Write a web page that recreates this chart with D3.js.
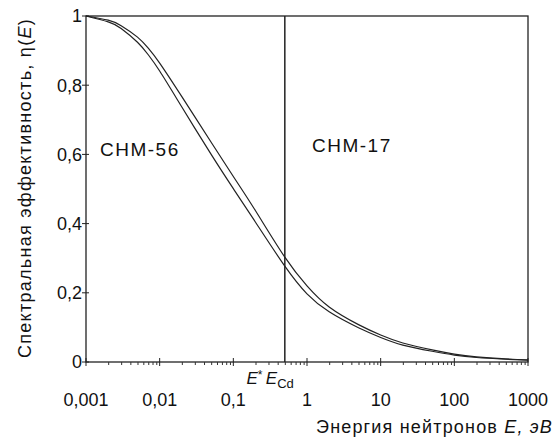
<!DOCTYPE html>
<html>
<head>
<meta charset="utf-8">
<script src="https://cdn.jsdelivr.net/npm/d3@7"></script>
<style>
    body { margin: 0; background: #fff; }
    svg text { font-family: "Liberation Sans", Arial, sans-serif; fill: #111; }
</style>
</head>
<body>
<div id="chart"></div>
<script>
// energies, eV
const energies = [0.001, 0.002, 0.003, 0.005, 0.007, 0.01, 0.02, 0.05, 0.1, 0.2, 0.5, 1, 2, 5, 10, 20, 50, 100, 200, 500, 1000];
// upper (right) curve
const upperValues = [1.0, 0.988, 0.972, 0.939, 0.907, 0.864, 0.767, 0.635, 0.536, 0.437, 0.303, 0.220, 0.159, 0.108, 0.078, 0.055, 0.035, 0.023, 0.015, 0.009, 0.006];
// lower (left) curve
const lowerValues = [1.0, 0.983, 0.964, 0.924, 0.888, 0.841, 0.737, 0.600, 0.501, 0.404, 0.277, 0.197, 0.145, 0.099, 0.071, 0.049, 0.031, 0.020, 0.013, 0.008, 0.005];

const xTickValues = [0.001, 0.01, 0.1, 1, 10, 100, 1000];
const xTickLabels = ['0,001', '0,01', '0,1', '1', '10', '100', '1000'];
const yTickValues = [0, 0.2, 0.4, 0.6, 0.8, 1];
const yTickLabels = ['0', '0,2', '0,4', '0,6', '0,8', '1'];

const cadmiumEnergy = 0.5;
const starEnergy = 0.2;

const width = 554;
const height = 438;
const plot = { left: 86, right: 528, top: 16, bottom: 362 };

let svg = d3.select('#chart').append('svg')
    .attr('width', width)
    .attr('height', height);

let x = d3.scaleLog().domain([0.001, 1000]).range([plot.left, plot.right]);
let y = d3.scaleLinear().domain([0, 1]).range([plot.bottom, plot.top]);

// stretch a label out to the length it has in the scan
function spreadTo(text, target) {
    let node = text.node();
    let len = node.getComputedTextLength();
    let count = node.textContent.length;
    text.style('letter-spacing', ((target - len) / count) + 'px');
}

// frame
svg.append('rect')
    .attr('x', plot.left)
    .attr('y', plot.top)
    .attr('width', plot.right - plot.left)
    .attr('height', plot.bottom - plot.top)
    .attr('fill', 'none')
    .attr('stroke', '#222')
    .attr('stroke-width', 1.3);

// x axis: major ticks cross the line, minor ticks below
let minorTicks = x.ticks().filter(d => !xTickValues.includes(d));
svg.append('g')
    .attr('transform', `translate(0,${plot.bottom})`)
    .call(d3.axisBottom(x).tickValues(minorTicks).tickSize(3).tickFormat(''))
    .call(g => g.select('.domain').remove())
    .call(g => g.selectAll('line').attr('stroke', '#333'));

svg.append('g')
    .selectAll('line')
    .data(xTickValues)
    .join('line')
    .attr('x1', d => x(d))
    .attr('x2', d => x(d))
    .attr('y1', plot.bottom - 4)
    .attr('y2', plot.bottom + 4)
    .attr('stroke', '#222');

svg.append('g')
    .selectAll('text')
    .data(xTickValues)
    .join('text')
    .attr('x', d => x(d))
    .attr('y', 406)
    .attr('text-anchor', 'middle')
    .style('font-size', '18px')
    .text((d, i) => xTickLabels[i]);

// y axis ticks
svg.append('g')
    .selectAll('line')
    .data(yTickValues)
    .join('line')
    .attr('x1', plot.left - 4)
    .attr('x2', plot.left + 3)
    .attr('y1', d => y(d))
    .attr('y2', d => y(d))
    .attr('stroke', '#222');

svg.append('g')
    .selectAll('text')
    .data(yTickValues)
    .join('text')
    .attr('x', plot.left - 4)
    .attr('y', d => y(d))
    .attr('dy', '0.36em')
    .attr('text-anchor', 'end')
    .style('font-size', '18px')
    .text((d, i) => yTickLabels[i]);

// curves
let line = d3.line()
    .x(d => x(d.e))
    .y(d => y(d.v))
    .curve(d3.curveNatural);

[upperValues, lowerValues].forEach(values => {
    svg.append('path')
        .datum(energies.map((e, i) => ({ e: e, v: values[i] })))
        .attr('d', line)
        .attr('fill', 'none')
        .attr('stroke', '#222')
        .attr('stroke-width', 1.2);
});

// cadmium edge
svg.append('line')
    .attr('x1', x(cadmiumEnergy))
    .attr('x2', x(cadmiumEnergy))
    .attr('y1', plot.top)
    .attr('y2', plot.bottom)
    .attr('stroke', '#222')
    .attr('stroke-width', 1.5);

// labels under the axis
let star = svg.append('text')
    .attr('x', x(starEnergy) - 1)
    .attr('y', 384)
    .attr('text-anchor', 'middle')
    .style('font-size', '17px');
star.append('tspan').style('font-style', 'italic').text('E');
star.append('tspan').attr('dy', -5).style('font-size', '12px').text('*');

let ecd = svg.append('text')
    .attr('x', x(cadmiumEnergy) - 19)
    .attr('y', 384)
    .style('font-size', '17px');
ecd.append('tspan').style('font-style', 'italic').text('E');
ecd.append('tspan').attr('dy', 4).style('font-size', '13px').text('Cd');

// region labels
svg.append('text')
    .attr('x', 100)
    .attr('y', 156)
    .style('font-size', '19px')
    .style('letter-spacing', '1.5px')
    .text('СНМ-56');

svg.append('text')
    .attr('x', 312)
    .attr('y', 152)
    .style('font-size', '19px')
    .style('letter-spacing', '1.5px')
    .text('СНМ-17');

// axis titles
let xTitle = svg.append('text')
    .attr('x', 553)
    .attr('y', 433)
    .attr('text-anchor', 'end')
    .style('font-size', '18px');
xTitle.append('tspan').text('Энергия нейтронов ');
xTitle.append('tspan').style('font-style', 'italic').text('E, эВ');
spreadTo(xTitle, 237);

let yTitle = svg.append('text')
    .attr('transform', 'translate(31,188) rotate(-90)')
    .attr('text-anchor', 'middle')
    .style('font-size', '18px');
yTitle.append('tspan').text('Спектральная эффективность, η(');
yTitle.append('tspan').style('font-style', 'italic').text('E');
yTitle.append('tspan').text(')');
spreadTo(yTitle, 340);
</script>
</body>
</html>
